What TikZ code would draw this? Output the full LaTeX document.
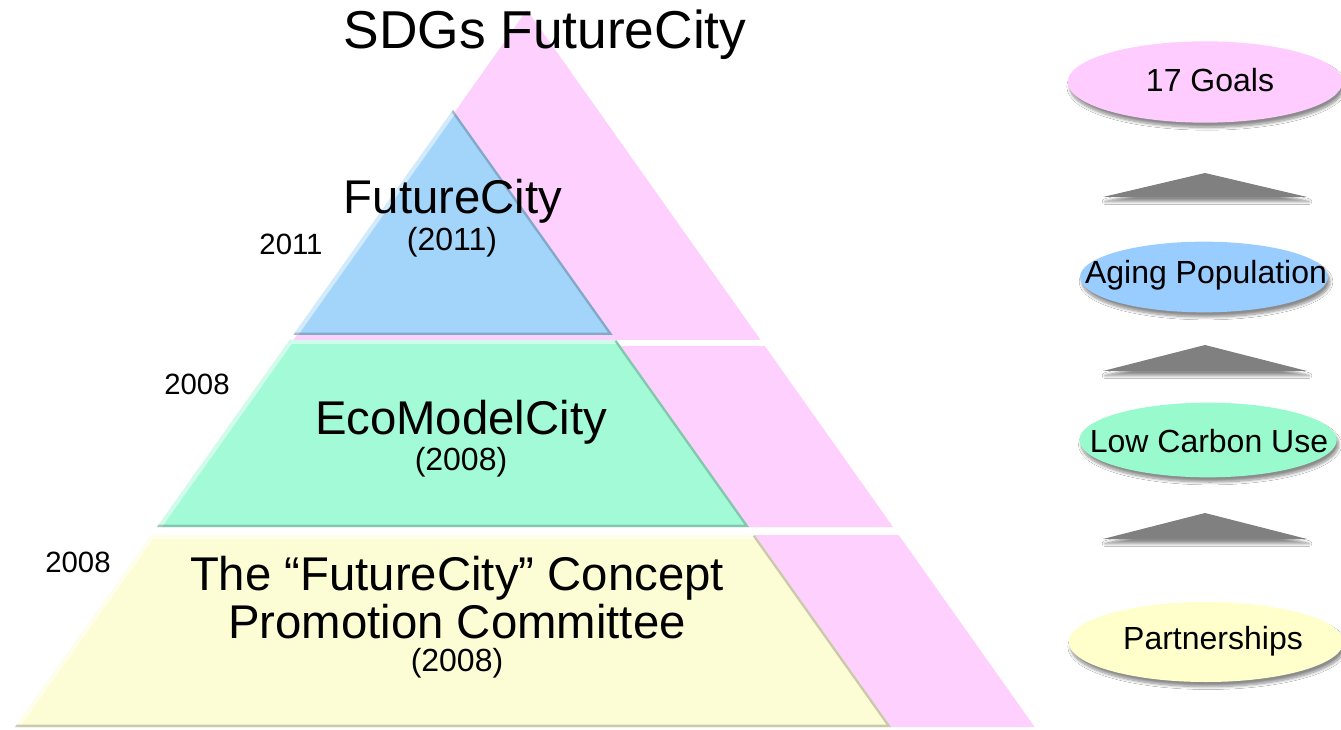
\documentclass[tikz,border=0pt]{standalone}
\usepackage{fontspec}
\setmainfont{Liberation Sans}
\usetikzlibrary{shapes.geometric,shadows.blur}
\definecolor{pinkL}{RGB}{253,208,253}
\definecolor{blueL}{RGB}{163,213,250}
\definecolor{greenL}{RGB}{163,250,215}
\definecolor{yellowL}{RGB}{253,253,213}
\definecolor{blueE}{RGB}{153,204,255}
\definecolor{greenE}{RGB}{153,250,205}
\definecolor{yellowE}{RGB}{255,255,204}
\definecolor{pinkE}{RGB}{255,204,255}
\definecolor{arrowgray}{RGB}{128,128,128}
\begin{document}
\begin{tikzpicture}[x=0.75pt,y=-0.75pt,
  big/.style={font=\fontsize{35.5}{40}\selectfont, inner sep=0pt},
  mid/.style={font=\fontsize{24}{28}\selectfont, inner sep=0pt},
  yr/.style={font=\fontsize{22}{26}\selectfont, inner sep=0pt},
  ovaltext/.style={inner sep=0pt, font=\fontsize{24}{28}\selectfont},
  sh/.style={blur shadow={shadow xshift=1.5pt, shadow yshift=-3.5pt, shadow opacity=45, shadow blur steps=8}},
  uparrow/.style={fill=arrowgray, sh},
  lightedge/.style={white, opacity=0.5, line width=6pt},
  darkedge/.style={black, opacity=0.2, line width=3.5pt}]
\useasboundingbox (0,0) rectangle (1341,730);
\fill[white] (0,0) rectangle (1341,730);

% ---- pink back triangle (three bands) ----
\fill[pinkL] (527,10) -- (760.6,340) -- (293.4,340) -- cycle;
\fill[pinkL] (289.2,346) -- (764.8,346) -- (893.0,527) -- (161.0,527) -- cycle;
\fill[pinkL] (155.3,535) -- (898.7,535) -- (1034.6,727) -- (19.4,727) -- cycle;

% ---- front pyramid ----
% blue
\coordinate (bA) at (453,110);
\coordinate (bL) at (293.3,335);
\coordinate (bR) at (612.7,335);
\fill[blueL] (bA) -- (bR) -- (bL) -- cycle;
\begin{scope}
  \clip (bA) -- (bR) -- (bL) -- cycle;
  \draw[lightedge] (bL) -- (bA);
  \draw[darkedge] (bA) -- (bR) -- (bL);
\end{scope}
% green
\coordinate (gTL) at (289.7,340);
\coordinate (gTR) at (616.3,340);
\coordinate (gBR) at (749,527);
\coordinate (gBL) at (157,527);
\fill[greenL] (gTL) -- (gTR) -- (gBR) -- (gBL) -- cycle;
\begin{scope}
  \clip (gTL) -- (gTR) -- (gBR) -- (gBL) -- cycle;
  \draw[lightedge] (gBL) -- (gTL) -- (gTR);
  \draw[darkedge] (gTR) -- (gBR) -- (gBL);
\end{scope}
% yellow
\coordinate (yTL) at (151.3,535);
\coordinate (yTR) at (754.7,535);
\coordinate (yBR) at (891,727);
\coordinate (yBL) at (15,727);
\fill[yellowL] (yTL) -- (yTR) -- (yBR) -- (yBL) -- cycle;
\begin{scope}
  \clip (yTL) -- (yTR) -- (yBR) -- (yBL) -- cycle;
  \draw[lightedge] (yBL) -- (yTL) -- (yTR);
  \draw[darkedge] (yTR) -- (yBR) -- (yBL);
\end{scope}

% ---- texts ----
\node[font=\fontsize{40}{44}\selectfont, inner sep=0pt] (title) at (545,35) {SDGs FutureCity};

\node[big] (fc) at (453,201) {FutureCity};
\node[mid] (fcy) at (452,242) {(2011)};
\node[big] (eco) at (461,422) {EcoModelCity};
\node[mid] (ecoy) at (461,462) {(2008)};
\node[big] (con1) at (457,578) {The “FutureCity” Concept};
\node[big] (con2) at (457,622) {Promotion Committee};
\node[mid] (cony) at (457,663) {(2008)};

\node[yr] (y2011) at (291,244) {2011};
\node[yr] (y2008a) at (197,384) {2008};
\node[yr] (y2008b) at (78,562) {2008};

% ---- right column ----
\fill[pinkE, sh] (1205,82) ellipse [x radius=103pt, y radius=30.5pt];
\node[ovaltext] (goals) at (1210,80) {17 Goals};
\fill[uparrow] (1103,197) -- (1205,173) -- (1307,197) -- cycle;
\fill[blueE, sh] (1204,277) ellipse [x radius=93pt, y radius=26.5pt];
\node[ovaltext] (aging) at (1206,275) {Aging Population};
\fill[uparrow] (1103,371) -- (1205,345) -- (1307,371) -- cycle;
\fill[greenE, sh] (1208,440) ellipse [x radius=96.5pt, y radius=28pt];
\node[ovaltext] (carbon) at (1209,441) {Low Carbon Use};
\fill[uparrow] (1103,539) -- (1205,513) -- (1307,539) -- cycle;
\fill[yellowE, sh] (1206,642) ellipse [x radius=103pt, y radius=30pt];
\node[ovaltext] (partner) at (1213,641) {Partnerships};
\end{tikzpicture}
\end{document}
